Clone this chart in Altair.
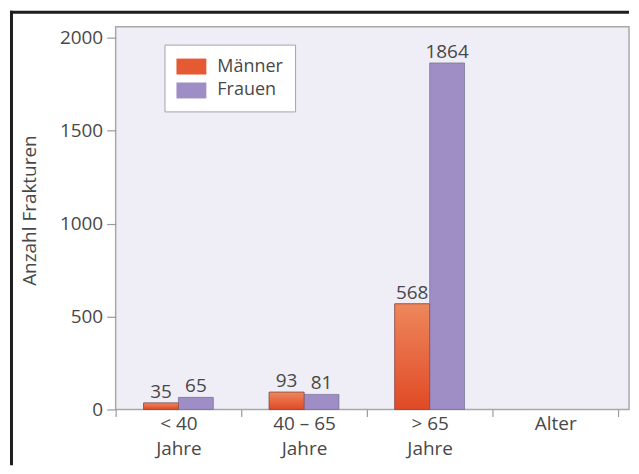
import altair as alt
import pandas as pd

# Data
age_groups = ["< 40|Jahre", "40 – 65|Jahre", "> 65|Jahre", "Alter"]
men = [35, 93, 568]
women = [65, 81, 1864]
series = ["Männer", "Frauen"]
y_ticks = [0, 500, 1000, 1500, 2000]

rows = []
for i, g in enumerate(age_groups[:3]):
    rows.append({"age": g, "sex": "Männer", "n": men[i]})
    rows.append({"age": g, "sex": "Frauen", "n": women[i]})
df = pd.DataFrame(rows)

FONT = "Open Sans"
TXT = "#484848"
FS = 19

x_enc = alt.X(
    "age:N",
    scale=alt.Scale(domain=age_groups, range=[0, 504], paddingInner=0, paddingOuter=0),
    axis=alt.Axis(
        title=None, domain=False, tickBand="extent", tickSize=7, tickColor="#9a9a9a",
        tickWidth=1.2, labelAngle=0, labelFontSize=FS, labelFont=FONT, labelColor=TXT,
        labelPadding=-2, labelLineHeight=25, labelBaseline="top",
        labelExpr="isValid(datum.value) ? split(datum.value, '|') : ''",
    ),
)
y_enc = alt.Y(
    "n:Q",
    scale=alt.Scale(domain=[0, 2059], nice=False),
    axis=alt.Axis(
        title="Anzahl Frakturen", values=y_ticks, format="d", domain=False, grid=False,
        tickSize=9, tickColor="#9a9a9a", tickWidth=1.2, labelFontSize=FS, labelFont=FONT,
        labelColor=TXT, labelPadding=4, titleFontSize=FS, titleFont=FONT,
        titleColor=TXT, titleFontWeight="normal", titleX=-86.5, titleY=184,
        titleBaseline="middle", titleAngle=-90,
    ),
)
xoff = alt.XOffset("sex:N", sort=series, scale=alt.Scale(paddingOuter=0.8, paddingInner=0))

base = alt.Chart(df).encode(x=x_enc, y=y_enc, xOffset=xoff)

bars = base.mark_bar(stroke="#6f6488", strokeWidth=0.8, strokeOpacity=0.8).encode(
    color=alt.Color(
        "sex:N", sort=series,
        scale=alt.Scale(domain=series, range=["#e55a32", "#9f8dc6"]),
        legend=alt.Legend(
            title=None, orient="none", legendX=49, legendY=18, fillColor="white",
            strokeColor="#a5a5a5", padding=12, labelFontSize=18, labelFont=FONT,
            labelColor=TXT, symbolType="M-1.5,-0.8H1.5V0.8H-1.5Z", symbolSize=400,
            symbolStrokeWidth=0, symbolOpacity=1, rowPadding=5, labelOffset=16,
            symbolOffset=5,
        ),
    )
)

men_gradient = alt.Gradient(
    gradient="linear",
    stops=[alt.GradientStop(color="#ee875c", offset=0), alt.GradientStop(color="#e04a26", offset=1)],
    x1=0, x2=0, y1=0, y2=1,
)
men_overlay = base.transform_filter(alt.datum.sex == "Männer").mark_bar(
    fill=men_gradient, stroke="#8a4a38", strokeWidth=0.8, strokeOpacity=0.8
)

labels = base.mark_text(baseline="alphabetic", dy=-5, fontSize=FS, font=FONT, color=TXT).encode(
    text="n:Q"
)

frame_df = pd.DataFrame({"k": [0]})
left_line = alt.Chart(frame_df).mark_rule(color="#1e1e1e", strokeWidth=3).encode(
    x=alt.value(-104.5), y=alt.value(-16), y2=alt.value(440)
)
top_line = alt.Chart(frame_df).mark_rule(color="#1e1e1e", strokeWidth=3).encode(
    x=alt.value(-106), x2=alt.value(515), y=alt.value(-14.5)
)

chart = (
    alt.layer(bars, men_overlay, labels, left_line, top_line)
    .properties(width=515, height=384, padding=0, background="white")
    .configure_view(fill="#efeef7", stroke="#a8a8a8", strokeWidth=1.5)
)

chart.save("out.html", embed_options={"renderer": "svg", "actions": False})
